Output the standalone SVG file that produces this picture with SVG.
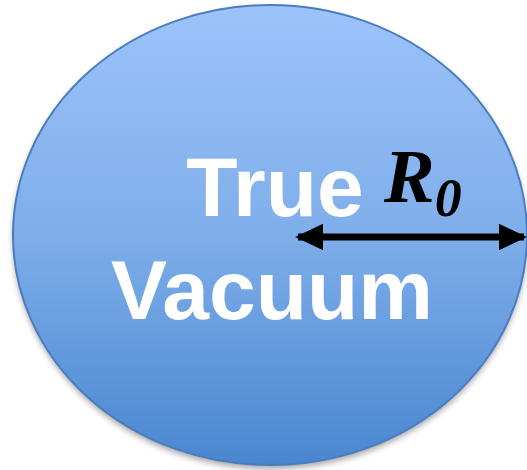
<svg xmlns="http://www.w3.org/2000/svg" width="527" height="470" viewBox="0 0 527 470">
<style>
.lbl{font-family:"Liberation Sans",Arial,sans-serif;font-weight:bold;font-size:84px;fill:#ffffff;text-anchor:middle}
.r{font-family:"Liberation Serif","Times New Roman",serif;font-weight:bold;font-style:italic;fill:#000}
</style>
<defs>
<linearGradient id="g" x1="0" y1="0" x2="0" y2="1">
<stop offset="0" stop-color="#9dc3fa"/>
<stop offset="0.5" stop-color="#7eaeea"/>
<stop offset="1" stop-color="#4a86d0"/>
</linearGradient>
<filter id="sh" x="-10%" y="-10%" width="120%" height="120%">
<feGaussianBlur stdDeviation="3"/>
</filter>
<marker id="ah" viewBox="0 0 10 10" refX="9" refY="5" markerWidth="4" markerHeight="3.8" orient="auto-start-reverse" markerUnits="strokeWidth" preserveAspectRatio="none">
<path d="M0,0 L10,5 L0,10 Z" fill="#000"/>
</marker>
</defs>
<g id="bubble">
<ellipse cx="270" cy="239" rx="257" ry="230" fill="#000" opacity="0.35" filter="url(#sh)"/>
<ellipse cx="270" cy="235" rx="257" ry="230" fill="url(#g)" stroke="#4a7dc0" stroke-width="2"/>
</g>
<g id="label">
<text class="lbl" x="275" y="216">True</text>
<text class="lbl" x="272" y="319">Vacuum</text>
</g>
<g id="connectors">
<line x1="298" y1="237" x2="524" y2="237" stroke="#000" stroke-width="7" marker-start="url(#ah)" marker-end="url(#ah)"/>
</g>
<g id="radius">
<text class="r" x="384" y="202" font-size="76">R<tspan font-size="54" dy="14">0</tspan></text>
</g>
</svg>
